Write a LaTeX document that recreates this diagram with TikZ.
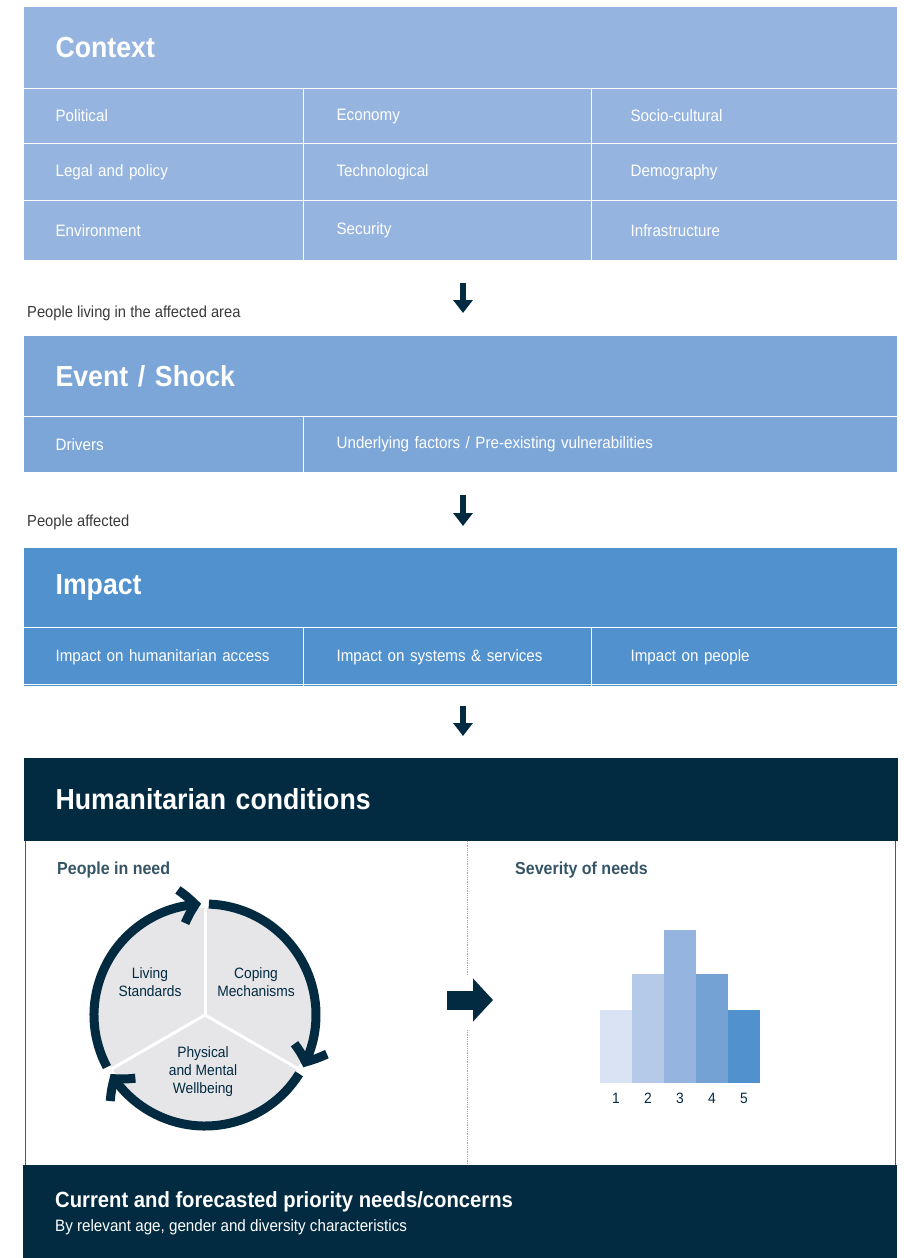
\documentclass[tikz,border=0pt]{standalone}
\usepackage{fontspec}
\setmainfont{Liberation Sans}[FakeStretch=0.92]
\usetikzlibrary{arrows.meta,bending}
\definecolor{ctxblue}{HTML}{95B4DF}
\definecolor{evblue}{HTML}{7BA6D7}
\definecolor{impblue}{HTML}{5191CD}
\definecolor{navy}{HTML}{022A40}
\definecolor{discgrey}{HTML}{E6E6E9}
\definecolor{labgrey}{HTML}{3A3A3A}
\definecolor{bar1}{HTML}{DAE3F3}
\definecolor{bar2}{HTML}{B4CAE8}
\definecolor{bar3}{HTML}{95B4DF}
\definecolor{bar4}{HTML}{74A2D5}
\definecolor{bar5}{HTML}{5191CD}
\begin{document}
\begin{tikzpicture}[x=1pt,y=-1pt,
	cell/.style={draw=white,line width=1.2pt,anchor=north west,inner xsep=0pt,inner ysep=0pt,
		text=white,align=left,font=\fontsize{16.5}{19}\selectfont},
	head/.style={cell,font=\bfseries\fontsize{29}{32}\selectfont},
	sidelabel/.style={anchor=west,text=labgrey,inner sep=0pt,font=\fontsize{16}{18}\selectfont},
	sublabel/.style={anchor=west,text=navy!80,inner sep=0pt,font=\bfseries\fontsize{17.4}{20}\selectfont},
	ringlabel/.style={text=navy,align=center,inner sep=0pt,font=\fontsize{15}{18}\selectfont},
	downarrow/.style={navy,line width=6.5pt,-{Triangle[length=13pt,width=19pt]}},
	ring/.style={navy,line width=9pt,-{Straight Barb[length=14pt,width=34pt,bend]}}]
	\useasboundingbox (0,0) rectangle (904,1258);
	%Contexte
	\node[head,fill=ctxblue,minimum width=874,minimum height=82,text width=810] (C0) at (23,6) {Context};
	\node[cell,fill=ctxblue,minimum width=280,minimum height=55,text width=216] (C11) at (23,88) {Political};
	\node[cell,fill=ctxblue,minimum width=288,minimum height=55,text width=222] (C12) at (303,88) {Economy};
	\node[cell,fill=ctxblue,minimum width=306,minimum height=55,text width=228] (C13) at (591,88) {Socio-cultural};
	\node[cell,fill=ctxblue,minimum width=280,minimum height=57,text width=216] (C21) at (23,143) {Legal and policy};
	\node[cell,fill=ctxblue,minimum width=288,minimum height=57,text width=222] (C22) at (303,143) {Technological};
	\node[cell,fill=ctxblue,minimum width=306,minimum height=57,text width=228] (C23) at (591,143) {Demography};
	\node[cell,fill=ctxblue,minimum width=280,minimum height=60,text width=216] (C31) at (23,200) {Environment};
	\node[cell,fill=ctxblue,minimum width=288,minimum height=60,text width=222] (C32) at (303,200) {Security};
	\node[cell,fill=ctxblue,minimum width=306,minimum height=60,text width=228] (C33) at (591,200) {Infrastructure};
	%Evenement
	\coordinate (A1s) at (463,283);
	\coordinate (A1e) at (463,313);
	\draw[downarrow] (A1s) -- (A1e);
	\node[sidelabel] (L1) at (27,313) {People living in the affected area};
	\node[head,fill=evblue,minimum width=874,minimum height=81,text width=810] (E0) at (23,335) {Event / Shock};
	\node[cell,fill=evblue,minimum width=280,minimum height=56,text width=216] (E11) at (23,416) {Drivers};
	\node[cell,fill=evblue,minimum width=594,minimum height=56,text width=528] (E12) at (303,416) {Underlying factors / Pre-existing vulnerabilities};
	%Impact
	\coordinate (A2s) at (463,495);
	\coordinate (A2e) at (463,526);
	\draw[downarrow] (A2s) -- (A2e);
	\node[sidelabel] (L2) at (27,522) {People affected};
	\node[head,fill=impblue,minimum width=874,minimum height=80,text width=810] (I0) at (23,547) {Impact};
	\node[cell,fill=impblue,minimum width=280,minimum height=59,text width=216] (I11) at (23,627) {Impact on humanitarian access};
	\node[cell,fill=impblue,minimum width=288,minimum height=59,text width=222] (I12) at (303,627) {Impact on systems \& services};
	\node[cell,fill=impblue,minimum width=306,minimum height=59,text width=228] (I13) at (591,627) {Impact on people};
	\draw[white,line width=1.2pt] ([yshift=3pt]I11.south west) -- ([yshift=3pt]I13.south east);
	%Conditions humanitaires
	\coordinate (A3s) at (463,706);
	\coordinate (A3e) at (463,736);
	\draw[downarrow] (A3s) -- (A3e);
	\node[draw=navy!75,line width=1pt,anchor=north west,minimum width=870,minimum height=325,inner sep=0pt] (P) at (25,840) {};
	\node[head,fill=navy,draw=none,minimum width=874,minimum height=83,text width=810] (H0) at (23,757) {Humanitarian conditions};
	\coordinate (D1) at (467,841);
	\coordinate (D2) at (467,976);
	\coordinate (D3) at (467,1030);
	\coordinate (D4) at (467,1165);
	\draw[gray!70,densely dotted,line width=0.8pt] (D1) -- (D2) (D3) -- (D4);
	\node[sublabel] (PN) at (57,870) {People in need};
	\node[sublabel] (SN) at (515,870) {Severity of needs};
	%Cycle
	\coordinate (O) at (205,1015);
	\fill[discgrey] (O) circle[radius=107pt];
	\foreach \a in {90,210,330}
		\draw[white,line width=3pt] (O) -- ++(\a:108pt);
	\draw[ring] ([shift={(208:111pt)}]O) arc[start angle=208,end angle=92,radius=111pt];
	\draw[ring] ([shift={(88:111pt)}]O) arc[start angle=88,end angle=-28,radius=111pt];
	\draw[ring] ([shift={(-32:111pt)}]O) arc[start angle=-32,end angle=-148,radius=111pt];
	\node[ringlabel] (LS) at (150,982) {Living\\Standards};
	\node[ringlabel] (CM) at (256,982) {Coping\\Mechanisms};
	\node[ringlabel] (PW) at (203,1072) {Physical\\and Mental\\Wellbeing};
	\coordinate (R1) at (447,1000);
	\coordinate (R2) at (493,1000);
	\draw[navy,line width=19pt,-{Triangle[length=20pt,width=42pt]}] (R1) -- (R2);
	%Severite
	\foreach \i/\t/\c in {1/1010/bar1,2/974/bar2,3/930/bar3,4/974/bar4,5/1010/bar5}{
		\fill[\c] (568+32*\i,\t) rectangle (600+32*\i,1083);
		\node[ringlabel] (N\i) at (584+32*\i,1098) {\i};
	}
	%Besoins prioritaires
	\node[fill=navy,anchor=north west,minimum width=874,minimum height=93,inner sep=0pt] (F0) at (23,1165) {};
	\node[anchor=west,text=white,inner sep=0pt,font=\bfseries\fontsize{22}{26}\selectfont] (F1) at (55,1202) {Current and forecasted priority needs/concerns};
	\node[anchor=west,text=white,inner sep=0pt,font=\fontsize{16.5}{19}\selectfont] (F2) at (55,1227) {By relevant age, gender and diversity characteristics};
\end{tikzpicture}
\end{document}
